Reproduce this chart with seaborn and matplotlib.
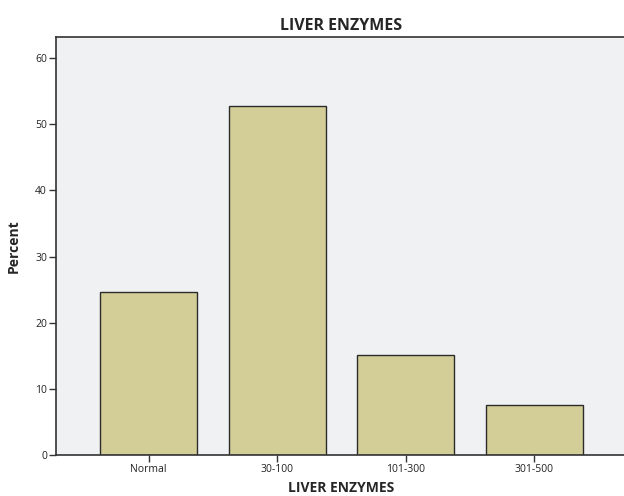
import matplotlib
matplotlib.use("Agg")
import matplotlib.pyplot as plt
import seaborn as sns
import pandas as pd

categories = ["Normal", "30-100", "101-300", "301-500"]
percent = [24.7, 52.7, 15.1, 7.5]
y_ticks = [0, 10, 20, 30, 40, 50, 60]

sns.set_style("white")
plt.rcParams['font.family'] = ['Open Sans', 'DejaVu Sans']

df = pd.DataFrame({"cat": categories, "pct": percent})

fig = plt.figure(figsize=(6.24, 4.96), dpi=100)
ax = fig.add_axes([56/624, (496-455)/496, (627-56)/624, (455-37)/496])
ax.set_facecolor("#F0F1F2")

sns.barplot(data=df, x="cat", y="pct", order=categories, color="#D3CE97",
            saturation=1, width=0.755, edgecolor="#2b2b2b", linewidth=1.0, ax=ax)

ax.set_xlim(-0.72, 3.72)
ax.set_ylim(0, 63.2)
ax.set_yticks(y_ticks)
ax.set_yticklabels([str(t) for t in y_ticks])
for s in ax.spines.values():
    s.set_color("#333333")
    s.set_linewidth(1.2)
ax.tick_params(axis="both", direction="out", length=5, width=1, color="#333333",
               labelsize=7.5, labelcolor="#222222", pad=1.5, left=True, bottom=True)
ax.set_xlabel("LIVER ENZYMES", fontsize=10, fontweight="bold", labelpad=4)
ax.set_ylabel("Percent", fontsize=10, fontweight="bold", labelpad=10)
ax.set_title("LIVER ENZYMES", fontsize=11.5, fontweight="bold", pad=5)

fig.savefig("out.png", dpi=100)
